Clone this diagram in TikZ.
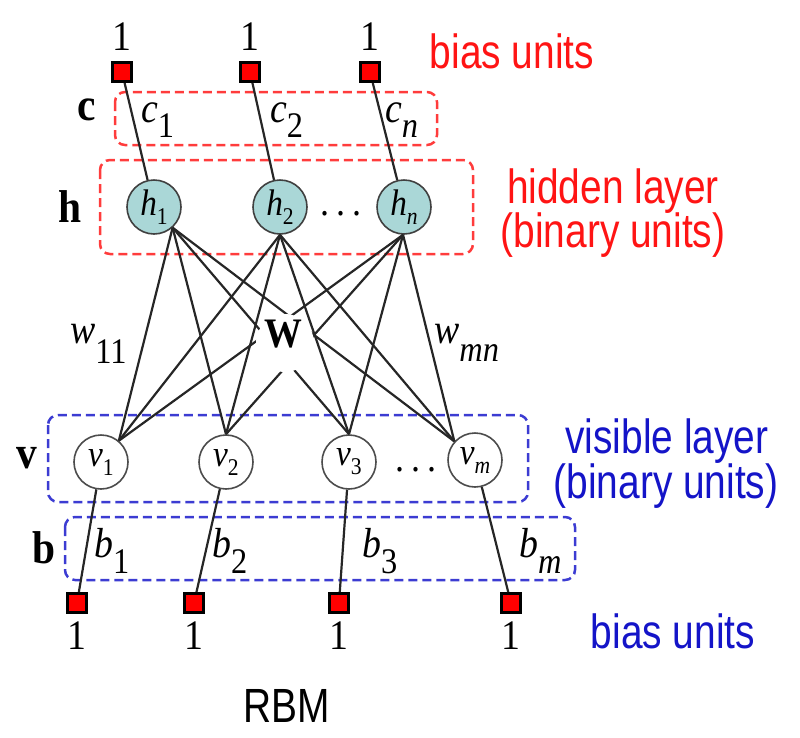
\documentclass[tikz,border=0pt]{standalone}
\usepackage{fontspec}
\newfontfamily\tms[FakeStretch=0.9]{Liberation Serif}
\newfontfamily\arl[FakeStretch=0.81]{Liberation Sans}
\definecolor{rbred}{RGB}{255,20,20}
\definecolor{rbredbox}{RGB}{255,60,60}
\definecolor{rbblue}{RGB}{20,20,200}
\definecolor{rbbluebox}{RGB}{60,60,210}
\definecolor{hfill}{RGB}{170,215,215}
\newcommand{\lsub}[3]{\raisebox{-#1}{\fontsize{#2}{#2}\selectfont #3}}
\begin{document}
\begin{tikzpicture}[x=1pt,y=-1pt,
  bias/.style={rectangle,draw=black,fill=red,line width=3pt,minimum size=19pt,inner sep=0pt},
  hunit/.style={circle,draw=black!75,fill=hfill,line width=1.6pt,minimum size=54pt,inner sep=0pt,font=\tms\itshape\fontsize{37}{37}\selectfont},
  vunit/.style={circle,draw=black!70,fill=white,line width=1.6pt,minimum size=54pt,inner sep=0pt,font=\tms\itshape\fontsize{37}{37}\selectfont},
  one/.style={font=\tms\fontsize{42}{42}\selectfont,inner sep=0pt},
  boldlab/.style={font=\tms\bfseries\fontsize{46}{46}\selectfont,inner sep=0pt},
  wlab/.style={font=\tms\itshape\fontsize{42}{42}\selectfont,inner sep=0pt,anchor=base west},
  redtxt/.style={font=\arl\fontsize{48}{48}\selectfont,text=rbred,inner sep=0pt,anchor=base},
  bluetxt/.style={font=\arl\fontsize{48}{48}\selectfont,text=rbblue,inner sep=0pt,anchor=base},
  redbox/.style={draw=rbredbox,line width=2.5pt,dash pattern=on 9pt off 5pt,rounded corners=10pt},
  bluebox/.style={draw=rbbluebox,line width=2.5pt,dash pattern=on 9pt off 5pt,rounded corners=10pt},
  conn/.style={draw=black!85,line width=2.2pt},
  dotsl/.style={font=\tms\fontsize{40}{40}\selectfont,inner sep=0pt,anchor=base}]
\useasboundingbox (0,0) rectangle (800,737);

% dashed group boxes
\draw[redbox] (115,92) rectangle (437,145);
\draw[redbox] (100,160) rectangle (473,254);
\draw[bluebox] (48,415) rectangle (528,502);
\draw[bluebox] (65,517) rectangle (575,580);

% top bias units
\node[bias] (tb1) at (122,72) {};
\node[bias] (tb2) at (250,72) {};
\node[bias] (tb3) at (370,72) {};
\node[one] (t1) at (122,37) {1};
\node[one] (t2) at (250,37) {1};
\node[one] (t3) at (370,37) {1};

% hidden units
\node[hunit] (h1) at (154,207) {h\lsub{9pt}{24}{\upshape 1}};
\node[hunit] (h2) at (280,207) {h\lsub{9pt}{24}{\upshape 2}};
\node[hunit] (hn) at (404,207) {h\lsub{9pt}{24}{n}};
\node[dotsl] (hdots) at (341,215) {.\hspace{7pt}.\hspace{7pt}.};

% visible units
\node[vunit] (v1) at (101,462) {v\lsub{9pt}{24}{\upshape 1}};
\node[vunit] (v2) at (226,462) {v\lsub{9pt}{24}{\upshape 2}};
\node[vunit] (v3) at (349,462) {v\lsub{9pt}{24}{\upshape 3}};
\node[vunit] (vm) at (475,460) {v\lsub{9pt}{24}{m}};
\node[dotsl] (vdots) at (416,471) {.\hspace{7pt}.\hspace{7pt}.};

% bottom bias units
\node[bias] (bb1) at (77,603) {};
\node[bias] (bb2) at (194,603) {};
\node[bias] (bb3) at (339,603) {};
\node[bias] (bb4) at (511,603) {};
\node[one] (o1) at (77,636) {1};
\node[one] (o2) at (194,636) {1};
\node[one] (o3) at (339,636) {1};
\node[one] (o4) at (511,636) {1};

% bias connections
\draw[conn] (tb1) -- (h1);
\draw[conn] (tb2) -- (h2);
\draw[conn] (tb3) -- (hn);
\draw[conn] (v1) -- (bb1);
\draw[conn] (v2) -- (bb2);
\draw[conn] (v3) -- (bb3);
\draw[conn] (vm) -- (bb4);

% weights
\foreach \h/\ha in {h1/-48,h2/-90,hn/-92}{
  \foreach \v/\va in {v1/50,v2/90,v3/90,vm/138}{
    \draw[conn] (\h.\ha) -- (\v.\va);
  }
}

% W label with white mask
\node[circle,fill=white,minimum size=58pt,inner sep=0pt] (wmask) at (285,343) {};
\node[font=\tms\bfseries\fontsize{42}{42}\selectfont,inner sep=0pt] (W) at (283,334) {W};

% layer letters
\node[boldlab] (lc) at (87,110) {c};
\node[boldlab] (lh) at (70,207) {h};
\node[boldlab] (lv) at (27,458) {v};
\node[boldlab] (lb) at (44,548) {b};

% parameter labels
\node[wlab] (c1) at (141,122) {c\lsub{15pt}{36}{\upshape 1}};
\node[wlab] (c2) at (270,122) {c\lsub{15pt}{36}{\upshape 2}};
\node[wlab] (cn) at (385,122) {c\lsub{15pt}{36}{n}};
\node[wlab] (b1) at (94,557) {b\lsub{16pt}{36}{\upshape 1}};
\node[wlab] (b2) at (212,557) {b\lsub{16pt}{36}{\upshape 2}};
\node[wlab] (b3) at (362,557) {b\lsub{16pt}{36}{\upshape 3}};
\node[wlab] (bm) at (519,557) {b\lsub{16pt}{36}{m}};
\node[wlab] (w11) at (70,343) {w\lsub{20pt}{36}{\upshape 11}};
\node[wlab] (wmn) at (434,343) {w\lsub{18pt}{36}{mn}};

% side texts
\node[redtxt] (rt1) at (512,68) {bias units};
\node[redtxt] (rt2) at (613,203) {hidden layer};
\node[redtxt] (rt3) at (613,247) {(binary units)};
\node[bluetxt] (bt1) at (667,453) {visible layer};
\node[bluetxt] (bt2) at (666,498) {(binary units)};
\node[bluetxt] (bt3) at (673,648) {bias units};
\node[font=\arl\fontsize{48}{48}\selectfont,inner sep=0pt,anchor=base] (rbm) at (287,722) {RBM};
\end{tikzpicture}
\end{document}
